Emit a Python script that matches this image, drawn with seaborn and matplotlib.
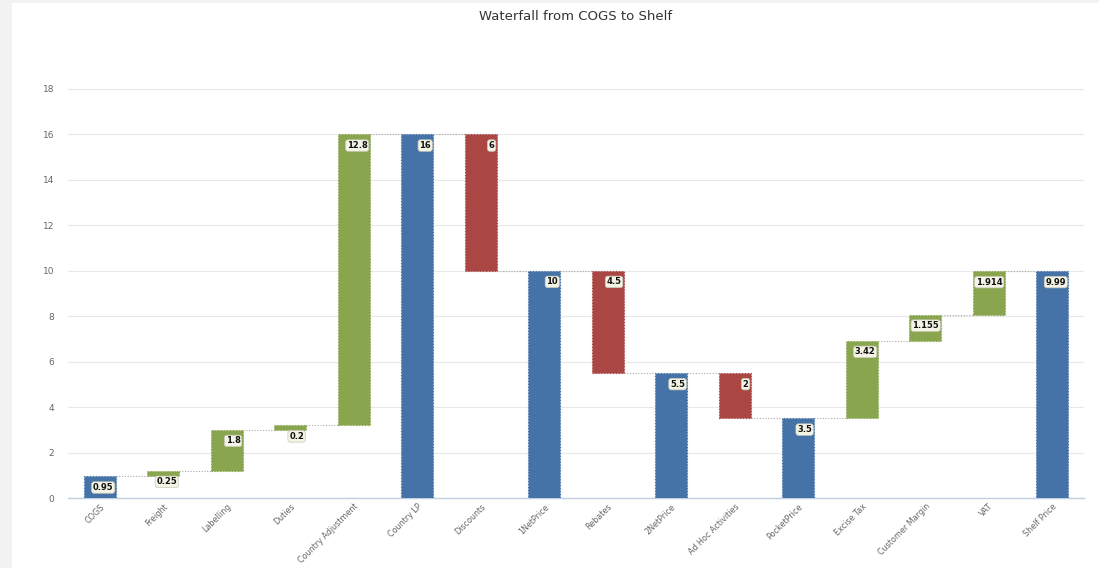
import numpy as np
import pandas as pd
import matplotlib
matplotlib.use("Agg")
import matplotlib.pyplot as plt
from matplotlib.patches import Rectangle
import seaborn as sns

# ---- data ----
categories = ["COGS", "Freight", "Labelling", "Duties", "Country Adjustment",
              "Country LP", "Discounts", "1NetPrice", "Rebates", "2NetPrice",
              "Ad Hoc Activities", "PocketPrice", "Excise Tax", "Customer Margin",
              "VAT", "Shelf Price"]
values = [0.95, 0.25, 1.8, 0.2, 12.8, 16, -6, 10, -4.5, 5.5, -2, 3.5, 3.42,
          1.155, 1.914, 9.99]
labels = ["0.95", "0.25", "1.8", "0.2", "12.8", "16", "6", "10", "4.5", "5.5",
          "2", "3.5", "3.42", "1.155", "1.914", "9.99"]
is_total = [True, False, False, False, False, True, False, True, False, True,
            False, True, False, False, False, True]
y_ticks = [0, 2, 4, 6, 8, 10, 12, 14, 16, 18]
title = "Waterfall from COGS to Shelf"

BLUE, GREEN, RED = "#4572A7", "#89A54E", "#AA4643"

# ---- waterfall geometry from values ----
bottoms, heights, colors, levels = [], [], [], []
running = 0.0
for v, tot in zip(values, is_total):
    if tot:
        bottoms.append(0.0)
        heights.append(v)
        colors.append(BLUE)
        running = v
    else:
        new = running + v
        bottoms.append(min(running, new))
        heights.append(abs(v))
        colors.append(GREEN if v > 0 else RED)
        running = new
    levels.append(running)
bar_tops = [b + h for b, h in zip(bottoms, heights)]

df = pd.DataFrame({"category": categories, "height": heights, "bottom": bottoms})

sns.set_theme(style="white")
plt.rcParams["font.family"] = ["DejaVu Sans"]

fig = plt.figure(figsize=(10.99, 5.68), dpi=100)
fig.patch.set_facecolor("#f2f2f2")
bg = Rectangle((12 / 1099, 0), 1 - 12 / 1099, 1 - 3 / 568,
               transform=fig.transFigure, facecolor="white",
               edgecolor="none", zorder=-10)
fig.add_artist(bg)
ax = fig.add_axes([68 / 1099, 1 - 498 / 568, (1084 - 68) / 1099, (498 - 89) / 568])
ax.set_zorder(1)
ax.set_facecolor("none")

sns.barplot(data=df, x="category", y="height", bottom=df["bottom"].values,
            order=categories, color=BLUE, width=0.5, errorbar=None, ax=ax,
            saturation=1, zorder=3)
for patch, c in zip(ax.patches, colors):
    patch.set_facecolor(c)
    patch.set_edgecolor(c)
    patch.set_linestyle(":")
    patch.set_linewidth(0.8)

# connectors
half = 0.25
for i in range(len(categories) - 1):
    ax.plot([i + half, i + 1 - half], [levels[i], levels[i]], color="#aaaaaa",
            linestyle=(0, (1, 1.5)), linewidth=0.8, zorder=2)

# data labels
for i, (t, lab) in enumerate(zip(bar_tops, labels)):
    ax.annotate(lab, xy=(i + half, t), xytext=(-1.5, -8),
                textcoords="offset points", ha="right", va="center",
                fontsize=6, fontweight="bold", color="#111111", zorder=5,
                bbox=dict(boxstyle="round,pad=0.15,rounding_size=0.3",
                          fc="#f4f4e6", ec="#c8c8b8", lw=0.5))

ax.set_xlim(-0.5, len(categories) - 0.5)
ax.set_ylim(0, 18)
ax.set_yticks(y_ticks)
ax.set_yticklabels([str(t) for t in y_ticks])
ax.set_xlabel("")
ax.set_ylabel("")
ax.yaxis.grid(True, color="#e8e8e8", linewidth=0.8, zorder=0)
ax.set_axisbelow(True)
for s in ["top", "right", "left"]:
    ax.spines[s].set_visible(False)
ax.spines["bottom"].set_color("#C0D0E0")
ax.spines["bottom"].set_linewidth(1.0)

ax.set_xticks(np.arange(len(categories)))
ax.set_xticklabels(categories, rotation=45, ha="right", rotation_mode="anchor",
                   fontsize=5.8, color="#666666")
for lbl in ax.get_xticklabels():
    lbl.set_x(lbl.get_position()[0])
ax.set_xticks(np.arange(-0.5, len(categories), 1.0), minor=True)
ax.tick_params(axis="x", which="major", length=0, pad=3)
ax.tick_params(axis="x", which="minor", length=5, color="#C0D0E0", width=1,
               direction="out")
ax.tick_params(axis="y", length=0, labelsize=6.5, labelcolor="#666666", pad=10)

fig.text(576 / 1099, 1 - 16 / 568, title, ha="center", va="center",
         fontsize=9.5, color="#333333")

fig.savefig("out.png", dpi=100, facecolor=fig.get_facecolor())
